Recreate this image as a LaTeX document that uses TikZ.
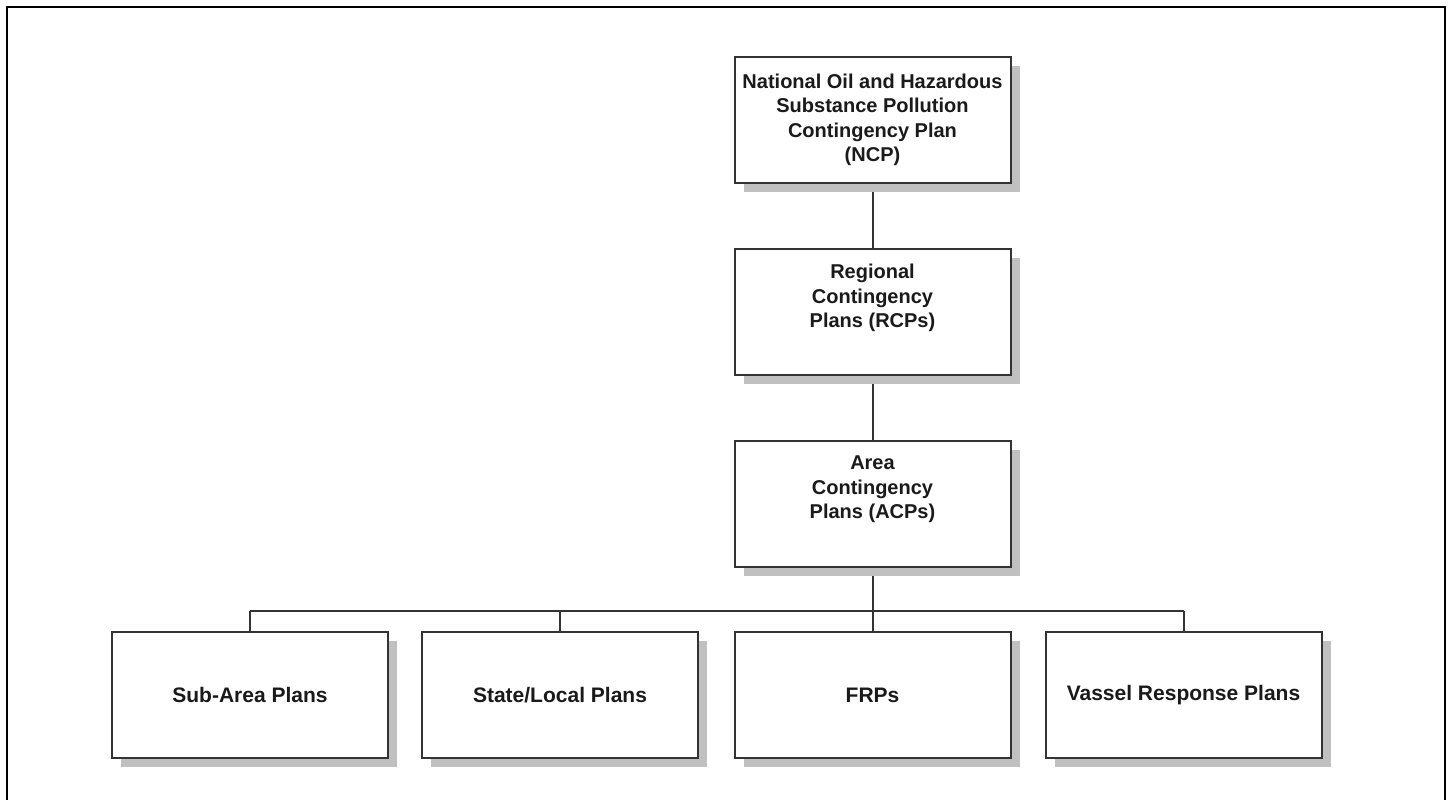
\documentclass[tikz,border=0pt]{standalone}
\usepackage{fontspec}
\setmainfont{Liberation Sans}
\usetikzlibrary{shadows,backgrounds}
\definecolor{boxline}{HTML}{333333}
\definecolor{shadowc}{HTML}{C0C0C0}
\definecolor{textc}{HTML}{1A1A1A}
\begin{document}
\begin{tikzpicture}[x=1pt,y=-1pt,
  box/.style={draw=boxline, line width=2pt, fill=white,
    minimum width=276pt, minimum height=126pt, inner sep=0pt,
    align=center, text=textc, font=\bfseries\fontsize{20}{24.5}\selectfont,
    drop shadow={shadow xshift=9pt, shadow yshift=-9pt, opacity=1, fill=shadowc}},
  leaf/.style={box, font=\bfseries\fontsize{21}{25}\selectfont},
  conn/.style={draw=boxline, line width=2pt}]
\useasboundingbox (0,0) rectangle (1449,800);
\draw[line width=2pt, black] (7,800) -- (7,7) -- (1445,7) -- (1445,800);

\node[box] (ncp) at (872.5,120) {National Oil and Hazardous\\Substance Pollution\\Contingency Plan\\(NCP)};
\node[box] (rcp) at (872.5,312) {Regional\\Contingency\\Plans (RCPs)\\\strut};
\node[box] (acp) at (872.5,503.5) {Area\\Contingency\\Plans (ACPs)\\\strut};
\node[leaf] (sub) at (250,695) {Sub-Area Plans};
\node[leaf] (sta) at (560,695) {State/Local Plans};
\node[leaf] (frp) at (872.5,695) {FRPs};
\node[leaf] (vas) at (1183.5,695) {Vassel Response Plans};
\coordinate (bus) at (0,611);

\begin{pgfonlayer}{background}
\draw[conn] (ncp.south) -- (rcp.north);
\draw[conn] (rcp.south) -- (acp.north);
\draw[conn] (acp.south) -- (frp.north);
\draw[conn] (sub.north |- bus) -- (vas.north |- bus);
\draw[conn] (sub.north) -- (sub.north |- bus);
\draw[conn] (sta.north) -- (sta.north |- bus);
\draw[conn] (vas.north) -- (vas.north |- bus);
\end{pgfonlayer}
\end{tikzpicture}
\end{document}
